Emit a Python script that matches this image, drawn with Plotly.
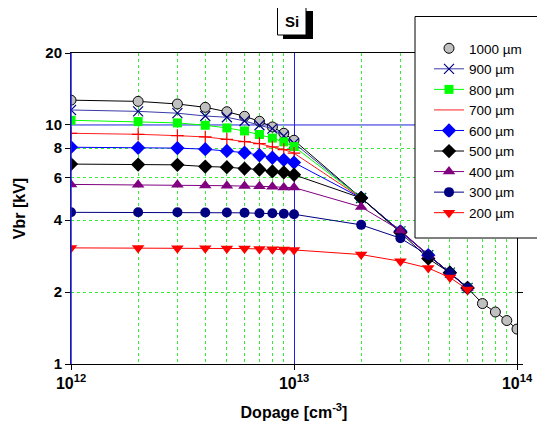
import plotly.graph_objects as go

doping = [1e12, 2e12, 3e12, 4e12, 5e12, 6e12, 7e12, 8e12, 9e12, 1e13,
          2e13, 3e13, 4e13, 5e13, 6e13]
doping_1000 = doping + [7e13, 8e13, 9e13, 1e14]

v1000 = [12.7, 12.55, 12.24, 11.85, 11.36, 10.87, 10.36, 9.81, 9.23, 8.63,
         4.95, 3.59, 2.85, 2.41, 2.08, 1.79, 1.65, 1.52, 1.40]
v900 = [11.55, 11.4, 11.2, 10.9, 10.77, 10.39, 9.97, 9.65, 9.0, 8.4,
        4.95, 3.59, 2.85, 2.41, 2.08]
v800 = [10.46, 10.33, 10.2, 9.97, 9.72, 9.44, 9.12, 8.81, 8.5, 8.12,
        4.95, 3.59, 2.85, 2.41, 2.08]
v700 = [9.23, 9.14, 9.02, 8.91, 8.71, 8.51, 8.36, 8.09, 7.89, 7.62,
        4.95, 3.59, 2.85, 2.41, 2.08]
v600 = [8.07, 8.02, 8.0, 7.92, 7.79, 7.66, 7.47, 7.29, 7.15, 6.96,
        4.95, 3.59, 2.85, 2.41, 2.08]
v500 = [6.86, 6.83, 6.81, 6.70, 6.66, 6.57, 6.51, 6.39, 6.33, 6.19,
        4.95, 3.55, 2.76, 2.41, 2.08]
v400 = [5.64, 5.62, 5.62, 5.58, 5.57, 5.55, 5.54, 5.52, 5.48, 5.47,
        4.54, 3.62, 2.86, 2.41, 2.08]
v300 = [4.31, 4.31, 4.31, 4.30, 4.30, 4.29, 4.27, 4.27, 4.25, 4.23,
        3.82, 3.36, 2.85, 2.41, 2.08]
v200 = [3.06, 3.06, 3.05, 3.05, 3.04, 3.04, 3.03, 3.02, 3.01, 3.00,
        2.87, 2.69, 2.52, 2.30, 2.05]

x_ticks = [1e12, 1e13, 1e14]
x_ticktext = ["10<sup>12</sup>", "10<sup>13</sup>", "10<sup>14</sup>"]
x_minor = [2e12, 3e12, 4e12, 5e12, 6e12, 7e12, 8e12, 9e12,
           2e13, 3e13, 4e13, 5e13, 6e13, 7e13, 8e13, 9e13]
y_ticks = [1, 2, 4, 6, 8, 10, 20]
y_minor = [2, 4, 6, 8]

FONT = "Arial, Liberation Sans, sans-serif"
OFF = 8  # page body margin
W, H = 545 - OFF, 433 - OFF
# plot area in page pixels: left 71, right 517, top 53, bottom 364
L, T = 71 - OFF, 53 - OFF
R, B = W - (517 - OFF), H - (364 - OFF)
PW, PH = W - L - R, H - T - B
BLUE_GRID = "#2020e0"


def px_x(p):  # page pixel -> paper fraction
    return (p - OFF - L) / PW


def px_y(p):
    return (H - B - (p - OFF)) / PH


fig = go.Figure()

fig.add_trace(go.Scatter(x=doping_1000, y=v1000, mode="lines",
                         line=dict(color="black", width=1), showlegend=False,
                         hoverinfo="skip"))
fig.add_trace(go.Scatter(x=doping_1000, y=v1000, mode="markers", name="1000 µm",
                         marker=dict(symbol="circle", size=10, color="#c0c0c0",
                                     line=dict(color="black", width=1))))
fig.add_trace(go.Scatter(x=doping, y=v900, mode="lines+markers", name="900 µm",
                         line=dict(color="#3a3aa8", width=1),
                         marker=dict(symbol="x-thin", size=10,
                                     line=dict(color="#000080", width=1.2))))
fig.add_trace(go.Scatter(x=doping, y=v800, mode="lines+markers", name="800 µm",
                         line=dict(color="#00ff00", width=1),
                         marker=dict(symbol="square", size=9, color="#00ff00")))
fig.add_trace(go.Scatter(x=doping, y=v700, mode="lines", name="700 µm",
                         line=dict(color="#ff2020", width=1)))
fig.add_trace(go.Scatter(x=doping, y=v700, mode="markers", showlegend=False,
                         marker=dict(symbol="cross-thin", size=9,
                                     line=dict(color="#ff0000", width=1.2))))
fig.add_trace(go.Scatter(x=doping, y=v600, mode="lines+markers", name="600 µm",
                         line=dict(color="#0000ff", width=1),
                         marker=dict(symbol="diamond", size=11, color="#0000ff")))
fig.add_trace(go.Scatter(x=doping, y=v500, mode="lines+markers", name="500 µm",
                         line=dict(color="black", width=1),
                         marker=dict(symbol="diamond", size=11, color="black")))
fig.add_trace(go.Scatter(x=doping, y=v400, mode="lines+markers", name="400 µm",
                         line=dict(color="#800080", width=1),
                         marker=dict(symbol="triangle-up", size=11, color="#800080")))
fig.add_trace(go.Scatter(x=doping, y=v300, mode="lines+markers", name="300 µm",
                         line=dict(color="#000080", width=1),
                         marker=dict(symbol="circle", size=10, color="#000080")))
fig.add_trace(go.Scatter(x=doping, y=v200, mode="lines+markers", name="200 µm",
                         line=dict(color="#ff0000", width=1),
                         marker=dict(symbol="triangle-down", size=11, color="#ff0000")))

fig.update_layout(
    width=W, height=H,
    margin=dict(l=L, r=R, t=T, b=B, autoexpand=False),
    paper_bgcolor="white", plot_bgcolor="white",
    font=dict(family=FONT, color="black"),
    showlegend=True,
    legend=dict(x=px_x(429), y=px_y(33), xanchor="left", yanchor="top",
                xref="paper", yref="paper",
                bgcolor="rgba(0,0,0,0)", borderwidth=0,
                font=dict(size=13.5, family=FONT),
                tracegroupgap=0, itemwidth=30),
    xaxis=dict(type="log", range=[12, 14], automargin=False,
               tickvals=x_ticks, ticktext=x_ticktext,
               tickfont=dict(size=16, family=FONT, weight="bold"),
               ticks="outside", ticklen=5, tickcolor="black",
               showline=True, linecolor="black", linewidth=1, mirror=True,
               showgrid=True, gridcolor=BLUE_GRID, gridwidth=1,
               minor=dict(tickvals=x_minor, showgrid=True, gridcolor="#33ee33",
                          griddash="dot", gridwidth=1, ticklen=0),
               title=dict(text="Dopage [cm<sup>-3</sup>]",
                          font=dict(size=16, family=FONT, weight="bold"))),
    yaxis=dict(type="log", range=[0, 1.30103], automargin=False,
               tickvals=y_ticks, ticktext=[str(v) for v in y_ticks],
               tickfont=dict(size=15, family=FONT, weight="bold"),
               ticks="outside", ticklen=5, tickcolor="black",
               showline=True, linecolor="black", linewidth=1, mirror="ticks",
               showgrid=False,
               minor=dict(tickvals=y_minor, showgrid=True, gridcolor="#33ee33",
                          griddash="dot", gridwidth=1, ticklen=0),
               title=dict(text="Vbr [kV]",
                          font=dict(size=16, family=FONT, weight="bold"))),
    shapes=[
        dict(type="line", xref="paper", yref="y", x0=0, x1=1, y0=10, y1=10,
             line=dict(color=BLUE_GRID, width=1), layer="below"),
        dict(type="line", xref="paper", yref="paper", x0=0, x1=0, y0=0, y1=1,
             line=dict(color=BLUE_GRID, width=1.5), layer="above"),
        dict(type="rect", xref="paper", yref="paper",
             x0=px_x(415), x1=px_x(544), y0=px_y(238), y1=px_y(16.5),
             line=dict(color="black", width=1), fillcolor="white", layer="above"),
        dict(type="rect", xref="paper", yref="paper",
             x0=px_x(283), x1=px_x(313), y0=px_y(39), y1=px_y(11),
             line=dict(color="black", width=0), fillcolor="black", layer="above"),
        dict(type="rect", xref="paper", yref="paper",
             x0=px_x(277.5), x1=px_x(306), y0=px_y(35), y1=px_y(7.5),
             line=dict(color="black", width=1), fillcolor="white", layer="above"),
    ],
    annotations=[
        dict(text="Si", xref="paper", yref="paper", xanchor="center", yanchor="middle",
             x=px_x(292), y=px_y(21.5), showarrow=False,
             font=dict(size=15, family=FONT, weight="bold", color="black")),
    ],
)

fig.write_html("out.html")
